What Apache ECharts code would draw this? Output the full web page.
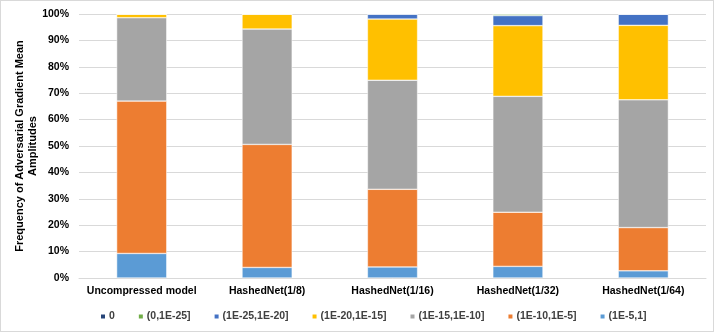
<!DOCTYPE html>
<html>
<head>
<meta charset="utf-8">
<script src="https://cdn.jsdelivr.net/npm/echarts@6/dist/echarts.min.js"></script>
<style>
  html, body { margin: 0; padding: 0; background: #fff; }
  #chart { width: 714px; height: 332px; box-sizing: border-box; border: 1px solid #d9d9d9; }
</style>
</head>
<body>
<div id="chart"></div>
<script>
// categories and bins
var categories = ['Uncompressed model', 'HashedNet(1/8)', 'HashedNet(1/16)', 'HashedNet(1/32)', 'HashedNet(1/64)'];
var binNames = ['(1E-5,1]', '(1E-10,1E-5]', '(1E-15,1E-10]', '(1E-20,1E-15]', '(1E-25,1E-20]', '(0,1E-25]', '0'];
var binColors = ['#5B9BD5', '#ED7D31', '#A5A5A5', '#FFC000', '#4472C4', '#70AD47', '#264478'];

// percentages per bin (bottom to top)
var bin_1e5_1 = [9.3, 4.0, 4.2, 4.4, 2.7];
var bin_1e10_1e5 = [57.7, 46.6, 29.4, 20.5, 16.4];
var bin_1e15_1e10 = [31.6, 43.7, 41.3, 43.9, 48.4];
var bin_1e20_1e15 = [1.4, 5.7, 23.2, 26.8, 28.2];
var bin_1e25_1e20 = [0, 0, 1.9, 3.8, 4.2];
var bin_0_1e25 = [0, 0, 0, 0.6, 0.1];
var bin_0 = [0, 0, 0, 0, 0];
var binValues = [bin_1e5_1, bin_1e10_1e5, bin_1e15_1e10, bin_1e20_1e15, bin_1e25_1e20, bin_0_1e25, bin_0];

var myChart = echarts.init(document.getElementById('chart'));

var series = binNames.map(function (name, i) {
  return {
    name: name,
    type: 'bar',
    stack: 'total',
    barWidth: '40%',
    data: binValues[i],
    itemStyle: { color: binColors[i], borderColor: '#ffffff', borderWidth: 0.5 }
  };
});

var option = {
  animation: false,
  textStyle: { fontFamily: 'Liberation Sans' },
  grid: { left: 78, right: 7, top: 13, bottom: 53, outerBoundsMode: 'none' },
  legend: {
    data: binNames.slice().reverse(),
    top: 305,
    left: 93,
    itemWidth: 6,
    itemHeight: 6,
    itemGap: 22,
    icon: 'rect',
    textStyle: { fontSize: 10.5, fontWeight: 'bold', color: '#404040', fontFamily: 'Liberation Sans', padding: [0, 0, 0, -2] }
  },
  xAxis: {
    type: 'category',
    data: categories,
    axisTick: { show: false },
    axisLine: { lineStyle: { color: '#d9d9d9' } },
    axisLabel: { interval: 0, fontSize: 10.5, fontWeight: 'bold', color: '#000', margin: 8 }
  },
  yAxis: {
    type: 'value',
    min: 0,
    max: 100,
    interval: 10,
    name: 'Frequency of Adversarial Gradient Mean\nAmplitudes',
    nameLocation: 'middle',
    nameGap: 40,
    nameMoveOverlap: false,
    nameRotate: 90,
    nameTextStyle: { fontSize: 11, fontWeight: 'bold', color: '#000', lineHeight: 13 },
    axisLabel: { formatter: '{value}%', fontSize: 10.5, fontWeight: 'bold', color: '#000', margin: 10 },
    splitLine: { lineStyle: { color: '#d9d9d9' } },
    axisLine: { show: false },
    axisTick: { show: false }
  },
  series: series
};

myChart.setOption(option);
</script>
</body>
</html>
